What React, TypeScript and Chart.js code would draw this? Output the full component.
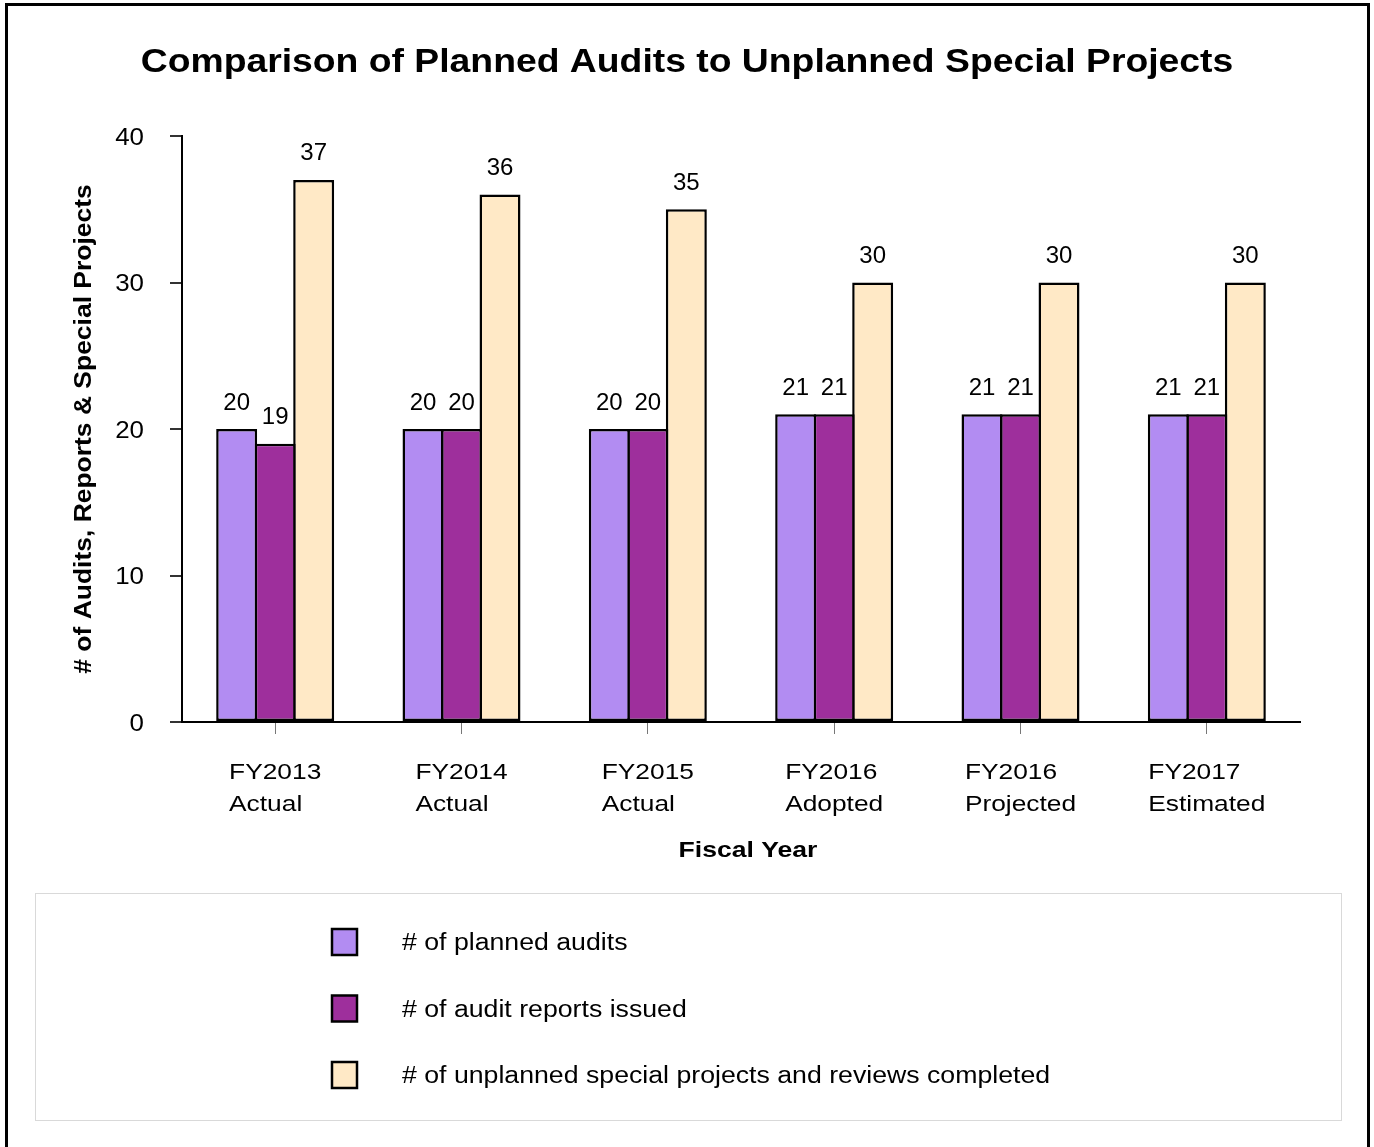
import React, { useEffect, useRef } from 'react';
import { Chart, registerables } from 'chart.js';

Chart.register(...registerables);

const FONT = '"Liberation Sans", Arial, Helvetica, sans-serif';

const categories: string[][] = [
  ['FY2013', 'Actual'],
  ['FY2014', 'Actual'],
  ['FY2015', 'Actual'],
  ['FY2016', 'Adopted'],
  ['FY2016', 'Projected'],
  ['FY2017', 'Estimated'],
];
const plannedAudits = [20, 20, 20, 21, 21, 21];
const auditReportsIssued = [19, 20, 20, 21, 21, 21];
const unplannedProjects = [37, 36, 35, 30, 30, 30];
const seriesLabels = [
  '# of planned audits',
  '# of audit reports issued',
  '# of unplanned special projects and reviews completed',
];
const seriesColors = ['#B28CF2', '#9E2F9C', '#FFE9C6'];
const yMin = 0;
const yMax = 40;
const yStep = 10;
const chartTitle = 'Comparison of Planned Audits to Unplanned Special Projects';
const yAxisTitle = '# of Audits, Reports & Special Projects';
const xAxisTitle = 'Fiscal Year';

const W = 1374;
const H = 1147;
const X_TICK_LINE = 32;
const X_TICK_PAD = 21;
const X_TICK_LEN = 12;
const Y_TICK_LEN = 12;
const Y_TICK_PAD = 26;
const TITLE_PAD_TOP = 41;
const Y_TITLE_PAD = 71;
const X_TITLE_PAD_BOTTOM = 20;
const X_TITLE_SHIFT = 7;

// text styles: font size, weight, horizontal glyph stretch
const STYLE = {
  title: { size: 32.5, weight: 'bold', sx: 1.148 },
  yTitle: { size: 23, weight: 'bold', sx: 1.15 },
  xTitle: { size: 22.5, weight: 'bold', sx: 1.18 },
  yTick: { size: 24, weight: 'normal', sx: 1.08 },
  xTick: { size: 22.5, weight: 'normal', sx: 1.17 },
  dataLabel: { size: 24, weight: 'normal', sx: 1.0 },
  legend: { size: 23, weight: 'normal', sx: 1.16 },
};

type Style = { size: number; weight: string; sx: number };

function fontOf(s: Style) {
  return `${s.weight} ${s.size}px ${FONT}`;
}

function textWidth(ctx: CanvasRenderingContext2D, text: string, s: Style) {
  ctx.save();
  ctx.font = fontOf(s);
  const w = ctx.measureText(text).width * s.sx;
  ctx.restore();
  return w;
}

function drawText(
  ctx: CanvasRenderingContext2D,
  text: string,
  x: number,
  y: number,
  s: Style,
  align: 'left' | 'center' | 'right',
  rotation = 0
) {
  ctx.save();
  ctx.font = fontOf(s);
  ctx.fillStyle = '#000000';
  ctx.textAlign = 'left';
  ctx.textBaseline = 'middle';
  const m = ctx.measureText(text).width;
  ctx.translate(x, rotation ? y : y + s.size * 0.08);
  if (rotation) ctx.rotate(rotation);
  ctx.scale(s.sx, 1);
  const dx = align === 'center' ? -m / 2 : align === 'right' ? -m : 0;
  ctx.fillText(text, dx, 0);
  ctx.restore();
}

const framePlugin = {
  id: 'frame',
  beforeDraw(chart: any) {
    const ctx = chart.ctx;
    ctx.save();
    ctx.fillStyle = '#ffffff';
    ctx.fillRect(0, 0, chart.width, chart.height);
    ctx.strokeStyle = '#000000';
    ctx.lineWidth = 3;
    ctx.strokeRect(6.5, 4.5, 1362, 1400);
    ctx.restore();
  },
};

const textPlugin = {
  id: 'texts',
  afterDraw(chart: any) {
    const ctx = chart.ctx as CanvasRenderingContext2D;
    const xs = chart.scales.x;
    const ys = chart.scales.y;

    // chart title, centred on the canvas
    const tb = chart.titleBlock;
    const titleLH = STYLE.title.size * 1.2;
    drawText(ctx, chartTitle, chart.width / 2, tb.top + TITLE_PAD_TOP + titleLH / 2, STYLE.title, 'center');

    // y axis tick labels
    ys.ticks.forEach((t: any) => {
      const py = ys.getPixelForValue(t.value);
      drawText(ctx, String(t.value), ys.right - Y_TICK_LEN - Y_TICK_PAD, py, STYLE.yTick, 'right');
    });

    // y axis title
    const yLH = STYLE.yTitle.size * 1.2;
    drawText(ctx, yAxisTitle, ys.left + Y_TITLE_PAD + yLH / 2, (ys.top + ys.bottom) / 2, STYLE.yTitle, 'center', -Math.PI / 2);

    // x axis tick labels: two-line blocks, left aligned, centred on the tick
    const y0 = xs.top + X_TICK_LEN + X_TICK_PAD + X_TICK_LINE / 2;
    (chart.data.labels as string[][]).forEach((lines, i) => {
      const px = xs.getPixelForTick(i);
      const maxW = Math.max(...lines.map((l) => textWidth(ctx, l, STYLE.xTick)));
      lines.forEach((l, k) => drawText(ctx, l, px - maxW / 2, y0 + k * X_TICK_LINE, STYLE.xTick, 'left'));
    });

    // x axis title
    const xLH = STYLE.xTitle.size * 1.2;
    drawText(
      ctx,
      xAxisTitle,
      (xs.left + xs.right) / 2 + X_TITLE_SHIFT,
      xs.bottom - X_TITLE_PAD_BOTTOM - xLH / 2,
      STYLE.xTitle,
      'center'
    );

    // legend box
    ctx.save();
    ctx.strokeStyle = '#d9d9d9';
    ctx.lineWidth = 1;
    ctx.strokeRect(35.5, 893.5, 1306, 227);
    ctx.restore();
    chart.data.datasets.forEach((ds: any, i: number) => {
      const cy = 942 + i * 66.5;
      ctx.save();
      ctx.fillStyle = ds.backgroundColor;
      ctx.fillRect(332, cy - 13, 25, 26);
      ctx.strokeStyle = '#000000';
      ctx.lineWidth = 2.5;
      ctx.strokeRect(332, cy - 13, 25, 26);
      ctx.restore();
      drawText(ctx, ds.label, 402, cy, STYLE.legend, 'left');
    });
  },
};

const dataLabelPlugin = {
  id: 'dataLabels',
  afterDatasetsDraw(chart: any) {
    const ctx = chart.ctx as CanvasRenderingContext2D;
    chart.data.datasets.forEach((ds: any, i: number) => {
      const meta = chart.getDatasetMeta(i);
      meta.data.forEach((bar: any, j: number) => {
        drawText(ctx, String(ds.data[j]), bar.x, bar.y - 28, STYLE.dataLabel, 'center');
      });
    });
  },
};

const HIDDEN = 'rgba(0,0,0,0)';

export default function App() {
  const canvasRef = useRef<HTMLCanvasElement | null>(null);

  useEffect(() => {
    const canvas = canvasRef.current;
    if (!canvas) return;
    const values = [plannedAudits, auditReportsIssued, unplannedProjects];
    const chart = new Chart(canvas, {
      type: 'bar',
      data: {
        labels: categories,
        datasets: values.map((v, i) => ({
          label: seriesLabels[i],
          data: v,
          backgroundColor: seriesColors[i],
          borderColor: '#000000',
          borderWidth: 2.5,
          borderSkipped: false,
          categoryPercentage: 0.62,
          barPercentage: 1.064,
        })),
      },
      options: {
        responsive: false,
        animation: false,
        devicePixelRatio: 1,
        layout: { padding: { left: 0, right: 74, top: 0, bottom: 265 } },
        plugins: {
          legend: { display: false },
          tooltip: { enabled: false },
          title: {
            display: true,
            text: chartTitle,
            color: HIDDEN,
            font: { family: FONT, size: STYLE.title.size, weight: 'bold', lineHeight: 1.2 },
            padding: { top: TITLE_PAD_TOP, bottom: 56 },
          },
        },
        scales: {
          x: {
            offset: true,
            grid: {
              display: true,
              drawOnChartArea: false,
              drawTicks: true,
              tickLength: X_TICK_LEN,
              color: '#777777',
              lineWidth: 1,
              offset: false,
            },
            border: { display: true, color: '#000000', width: 2 },
            ticks: {
              color: HIDDEN,
              font: { family: FONT, size: STYLE.xTick.size, lineHeight: X_TICK_LINE / STYLE.xTick.size },
              padding: X_TICK_PAD,
              maxRotation: 0,
              autoSkip: false,
            },
            title: {
              display: true,
              text: xAxisTitle,
              color: HIDDEN,
              font: { family: FONT, size: STYLE.xTitle.size, weight: 'bold', lineHeight: 1.2 },
              padding: { top: 0, bottom: X_TITLE_PAD_BOTTOM },
            },
            afterFit(scale: any) {
              scale.height = 160;
            },
          },
          y: {
            min: yMin,
            max: yMax,
            ticks: {
              stepSize: yStep,
              color: HIDDEN,
              font: { family: FONT, size: STYLE.yTick.size },
              padding: Y_TICK_PAD,
            },
            grid: {
              display: true,
              drawOnChartArea: false,
              drawTicks: true,
              tickLength: Y_TICK_LEN,
              color: '#333333',
              lineWidth: 2,
            },
            border: { display: true, color: '#000000', width: 2 },
            title: {
              display: true,
              text: yAxisTitle,
              color: HIDDEN,
              font: { family: FONT, size: STYLE.yTitle.size, weight: 'bold', lineHeight: 1.2 },
              padding: { top: Y_TITLE_PAD, bottom: 0 },
            },
            afterFit(scale: any) {
              scale.width = 182;
            },
          },
        },
      },
      plugins: [framePlugin, dataLabelPlugin, textPlugin],
    });
    return () => chart.destroy();
  }, []);

  return (
    <canvas
      ref={canvasRef}
      width={W}
      height={H}
      style={{ position: 'absolute', left: 0, top: 0, width: W, height: H, display: 'block' }}
    />
  );
}
